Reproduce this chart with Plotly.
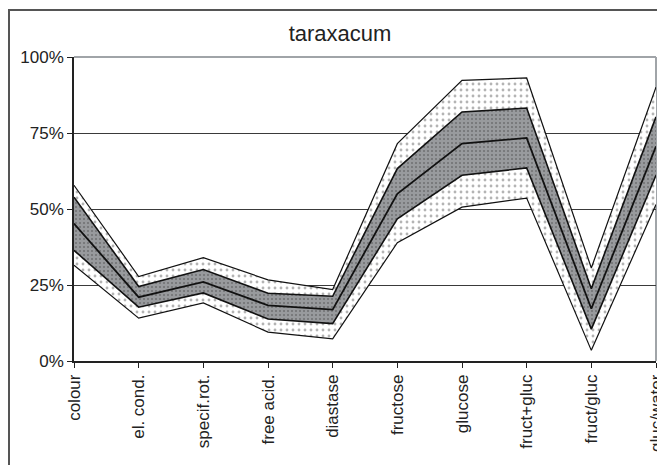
import plotly.graph_objects as go

categories = ["colour", "el. cond.", "specif.rot.", "free acid.", "diastase",
              "fructose", "glucose", "fruct+gluc", "fruct/gluc", "gluc/water"]
outer_upper = [57.8, 27.8, 34.0, 26.7, 23.5, 71.5, 92.3, 93.1, 30.6, 90.1]
inner_upper = [53.9, 24.5, 30.1, 22.3, 21.3, 63.3, 81.9, 83.2, 23.8, 80.3]
mean_vals   = [45.2, 21.0, 26.0, 18.3, 16.9, 55.0, 71.5, 73.4, 17.2, 70.6]
inner_lower = [36.4, 17.7, 22.4, 13.8, 12.3, 46.8, 61.1, 63.5, 10.5, 61.1]
outer_lower = [31.5, 14.1, 19.1, 9.5, 7.3, 38.9, 50.6, 53.6, 3.5, 51.5]
y_ticks = [0, 25, 50, 75, 100]
y_labels = ["0%", "25%", "50%", "75%", "100%"]

FONT = "Liberation Sans, Arial, sans-serif"
x = list(range(len(categories)))

# page has an 8px body margin: figure origin sits at page (8, 8)
W, H = 665, 457
L, R, T, B = 66, 17, 49, 104.4
PW, PH = W - L - R, H - T - B

fig = go.Figure()

white_dots = dict(shape=".", bgcolor="white", fgcolor="#6a6a6a", size=6, solidity=0.18)
gray_dots = dict(shape=".", bgcolor="#989a9d", fgcolor="#4a4a4a", size=4, solidity=0.22)

# fills
fig.add_trace(go.Scatter(x=x, y=outer_lower, mode="lines", line=dict(width=0),
                         hoverinfo="skip", showlegend=False))
fig.add_trace(go.Scatter(x=x, y=inner_lower, mode="lines", line=dict(width=0),
                         fill="tonexty", fillcolor="white", fillpattern=white_dots,
                         hoverinfo="skip", showlegend=False))
fig.add_trace(go.Scatter(x=x, y=inner_upper, mode="lines", line=dict(width=0),
                         fill="tonexty", fillcolor="#989a9d", fillpattern=gray_dots,
                         hoverinfo="skip", showlegend=False))
fig.add_trace(go.Scatter(x=x, y=outer_upper, mode="lines", line=dict(width=0),
                         fill="tonexty", fillcolor="white", fillpattern=white_dots,
                         hoverinfo="skip", showlegend=False))

# lines
for vals, w in [(outer_lower, 1.2), (inner_lower, 1.6), (mean_vals, 1.8),
                (inner_upper, 1.6), (outer_upper, 1.2)]:
    fig.add_trace(go.Scatter(x=x, y=vals, mode="lines",
                             line=dict(color="#111111", width=w),
                             showlegend=False))

fig.update_layout(
    width=W, height=H,
    margin=dict(l=L, r=R, t=T, b=B),
    paper_bgcolor="white", plot_bgcolor="white",
    font=dict(family=FONT, size=17, color="#222222"),
    title=dict(text="taraxacum", x=332 / W, xanchor="center",
               y=1 - 25 / H, yanchor="middle", yref="container",
               font=dict(family=FONT, size=22, color="#222222")),
    xaxis=dict(range=[0, 9], tickvals=x, ticktext=categories, tickangle=-90,
               showgrid=False, zeroline=False, showline=True,
               linecolor="#222222", linewidth=1.5,
               ticks="outside", ticklen=5, tickcolor="#222222",
               tickfont=dict(size=17), automargin=False,
               ticklabeloverflow="allow"),
    yaxis=dict(range=[0, 100], tickvals=y_ticks, ticktext=y_labels,
               showgrid=True, gridcolor="#3a3a3a", gridwidth=1,
               zeroline=False, showline=True, linecolor="#222222", linewidth=1.5,
               ticks="outside", ticklen=5, tickcolor="#222222",
               tickfont=dict(size=17), automargin=False),
    shapes=[
        dict(type="line", xref="paper", yref="paper", x0=0, x1=1, y0=1, y1=1,
             line=dict(color="#a0a4a8", width=2), layer="above"),
        dict(type="line", xref="paper", yref="paper", x0=1, x1=1, y0=0, y1=1,
             line=dict(color="#a0a4a8", width=2), layer="between"),
        dict(type="rect", xref="paper", yref="paper",
             x0=(1 - L) / PW, x1=(W + 10 - L) / PW,
             y0=-(H + 10 - (H - B)) / PH, y1=((H - B) - 2) / PH,
             line=dict(color="#555555", width=2), layer="above"),
    ],
)

fig.write_html("out.html")
